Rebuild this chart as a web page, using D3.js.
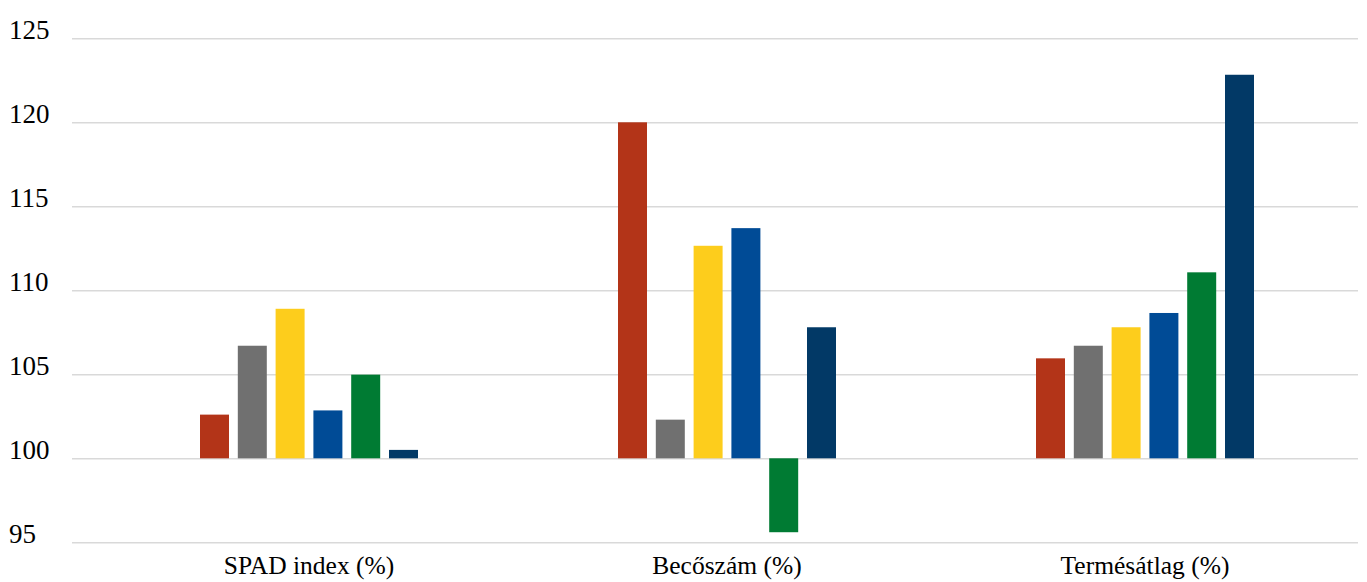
<!DOCTYPE html>
<html>
<head>
<meta charset="utf-8">
<script src="https://cdn.jsdelivr.net/npm/d3@7"></script>
</head>
<body style="margin:0">
<svg id="chart" width="1367" height="582" font-family="Liberation Serif"></svg>
<script>
// Categories along the x axis
const categories = ["SPAD index (%)", "Becőszám (%)", "Termésátlag (%)"];

// One value per category for each of the six treatments
const series1 = [102.6, 120.0, 105.95];
const series2 = [106.7, 102.3, 106.7];
const series3 = [108.9, 112.65, 107.8];
const series4 = [102.85, 113.7, 108.65];
const series5 = [104.98, 95.6, 111.07];
const series6 = [100.5, 107.8, 122.83];

const seriesValues = [series1, series2, series3, series4, series5, series6];
const seriesColors = ["#b33418", "#707070", "#fdcd1c", "#004b96", "#007b33", "#023966"];

// Y axis ticks
const yTicks = [95, 100, 105, 110, 115, 120, 125];
const baseValue = 100;

const labelFont = "Liberation Serif";

const svg = d3.select("#chart");

const y = d3.scaleLinear().domain([95, 125]).range([542.3, 38.3]);

const x = d3.scaleBand()
  .domain(categories)
  .range([100, 1354]);

const seriesIdx = d3.range(seriesValues.length);
const xInner = d3.scaleBand()
  .domain(seriesIdx)
  .range([-113.4, 113.4])
  .paddingInner(0.233)
  .paddingOuter(0.1165);

// Horizontal gridlines
const grid = d3.axisLeft(y)
  .tickValues(yTicks)
  .tickSize(-(1358 - 72))
  .tickFormat("");

svg.append("g")
  .attr("transform", "translate(72,0)")
  .call(grid)
  .call(g => g.select(".domain").remove())
  .call(g => g.selectAll(".tick line").attr("stroke", "#d9d9d9").attr("stroke-width", 1.6));

// Y tick labels, left aligned
svg.append("g")
  .selectAll("text")
  .data(yTicks)
  .join("text")
  .attr("x", 9)
  .attr("y", d => y(d) + 1)
  .attr("text-anchor", "start")
  .attr("font-family", labelFont)
  .attr("font-size", 27)
  .attr("fill", "#000")
  .text(d => d);

// Bars, drawn from the 100 baseline
const groups = svg.append("g")
  .selectAll("g")
  .data(categories)
  .join("g")
  .attr("transform", d => `translate(${x(d) + x.bandwidth() / 2},0)`);

groups.selectAll("rect")
  .data((c, ci) => seriesIdx.map(si => ({ si, v: seriesValues[si][ci] })))
  .join("rect")
  .attr("x", d => xInner(d.si))
  .attr("width", xInner.bandwidth())
  .attr("y", d => y(Math.max(d.v, baseValue)))
  .attr("height", d => Math.abs(y(d.v) - y(baseValue)))
  .attr("fill", d => seriesColors[d.si]);

// Category labels
svg.append("g")
  .selectAll("text")
  .data(categories)
  .join("text")
  .attr("x", d => x(d) + x.bandwidth() / 2)
  .attr("y", 574)
  .attr("text-anchor", "middle")
  .attr("font-family", labelFont)
  .attr("font-size", 25.5)
  .attr("fill", "#000")
  .text(d => d);
</script>
</body>
</html>
